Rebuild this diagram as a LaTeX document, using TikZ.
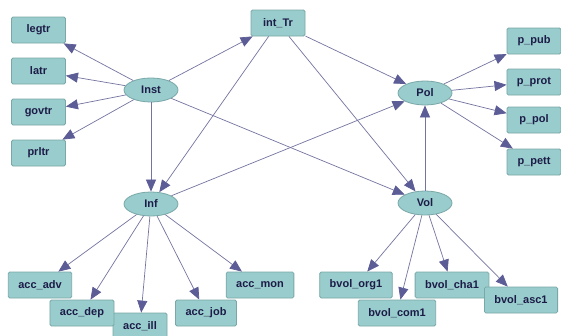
\documentclass[tikz,border=0pt]{standalone}
\usepackage{fontspec}
\setmainfont{Liberation Sans}
\usetikzlibrary{arrows.meta,shapes.geometric}
\definecolor{boxfill}{RGB}{153,204,204}
\definecolor{boxedge}{RGB}{122,168,168}
\definecolor{labeltext}{RGB}{28,28,72}
\definecolor{edgeline}{RGB}{116,116,160}
\definecolor{tipfill}{RGB}{92,92,150}
\tikzset{
  var/.style={draw=boxedge, fill=boxfill, rounded corners=1.5pt, line width=0.8pt,
    minimum width=54pt, minimum height=26pt, inner xsep=10pt, inner ysep=0pt,
    font=\fontsize{11}{12}\selectfont\bfseries, text=labeltext},
  latent/.style={ellipse, draw=boxedge, fill=boxfill, line width=0.8pt,
    minimum width=54pt, minimum height=24pt, inner sep=0pt,
    font=\fontsize{11}{12}\selectfont\bfseries, text=labeltext},
  link/.style={draw=edgeline, line width=0.7pt,
    -{Triangle[length=12pt,width=10pt,fill=tipfill,color=tipfill]}}
}
\begin{document}
\begin{tikzpicture}[x=1pt,y=-1pt]
\useasboundingbox (0,0) rectangle (561,335);
\fill[white] (0,0) rectangle (561,335);

% latent factors
\node[latent] (Inst) at (151,90) {Inst};
\node[latent] (Pol)  at (425,93) {Pol};
\node[latent] (Inf)  at (151,204) {Inf};
\node[latent] (Vol)  at (425,203) {Vol};

% indicators of Inst
\node[var] (legtr) at (38.5,30) {legtr};
\node[var] (latr)  at (38.5,71) {latr};
\node[var] (govtr) at (38.5,112) {govtr};
\node[var] (prltr) at (38.5,153) {prltr};
\node[var] (intTr) at (278,23) {int\_Tr};

% indicators of Pol
\node[var] (ppub)  at (534,41) {p\_pub};
\node[var] (pprot) at (534,82) {p\_prot};
\node[var] (ppol)  at (534,120) {p\_pol};
\node[var] (ppett) at (534,162) {p\_pett};

% indicators of Inf
\node[var] (accill) at (140,326) {acc\_ill};
\node[var] (accadv) at (40,285) {acc\_adv};
\node[var] (accdep) at (82,313) {acc\_dep};
\node[var] (accjob) at (206,313) {acc\_job};
\node[var] (accmon) at (260,285) {acc\_mon};

% indicators of Vol
\node[var] (borg) at (356,285) {bvol\_org1};
\node[var] (bcom) at (397,313) {bvol\_com1};
\node[var] (bcha) at (452,285) {bvol\_cha1};
\node[var] (basc) at (521,300) {bvol\_asc1};

% structural paths
\draw[link] (Inst) -- (legtr);
\draw[link] (Inst) -- (latr);
\draw[link] (Inst) -- (govtr);
\draw[link] (Inst) -- (prltr);
\draw[link] (Inst) -- (intTr);
\draw[link] (Inst) -- (Inf);
\draw[link] (Inst) -- (Vol);
\draw[link] (intTr) -- (Pol);
\draw[link] (intTr) -- (Inf);
\draw[link] (intTr) -- (Vol);
\draw[link] (Inf) -- (Pol);
\draw[link] (Vol) -- (Pol);

% measurement paths
\draw[link] (Pol) -- (ppub);
\draw[link] (Pol) -- (pprot);
\draw[link] (Pol) -- (ppol);
\draw[link] (Pol) -- (ppett);
\draw[link] (Inf) -- (accadv);
\draw[link] (Inf) -- (accdep);
\draw[link] (Inf) -- (accill);
\draw[link] (Inf) -- (accjob);
\draw[link] (Inf) -- (accmon);
\draw[link] (Vol) -- (borg);
\draw[link] (Vol) -- (bcom);
\draw[link] (Vol) -- (bcha);
\draw[link] (Vol) -- (basc);
\end{tikzpicture}
\end{document}
